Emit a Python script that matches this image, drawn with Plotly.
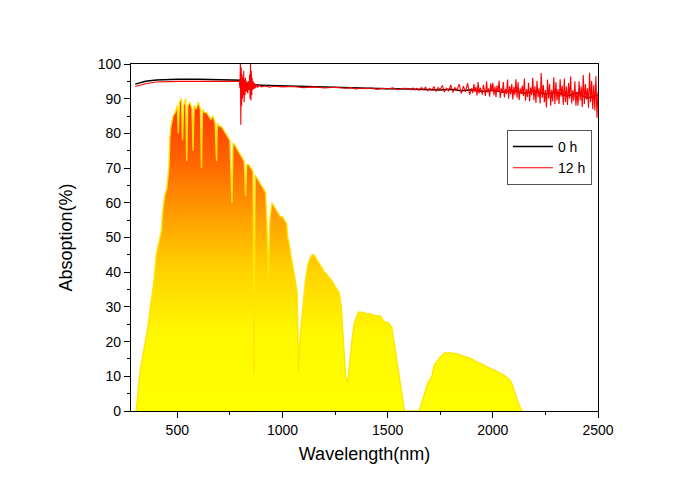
import plotly.graph_objects as go

# solar spectrum (scaled)
spec_nm = [305, 310, 320, 330, 340, 350, 360, 370, 380, 390, 400, 410, 420, 425, 430, 440, 450, 460, 465, 470,
           480, 490, 500, 505, 510, 520, 525, 530, 540, 545, 550, 560, 570, 575, 580, 590, 600, 610, 615, 620,
           630, 640, 650, 660, 670, 680, 687, 690, 700, 710, 720, 730, 740, 750, 760, 765, 770, 780, 790, 800,
           810, 818, 825, 830, 840, 850, 860, 865, 870, 880, 890, 900, 910, 920, 927, 933, 940, 950, 960, 970,
           980, 990, 1000, 1010, 1020, 1025, 1030, 1040, 1050, 1060, 1070, 1076, 1082, 1090, 1100, 1110, 1120,
           1130, 1140, 1150, 1160, 1170, 1180, 1190, 1200, 1210, 1220, 1230, 1240, 1250, 1260, 1270, 1280, 1290,
           1300, 1310, 1320, 1330, 1340, 1350, 1360, 1380, 1400, 1420, 1440, 1460, 1470, 1480, 1490, 1500, 1510,
           1520, 1530, 1540, 1550, 1560, 1570, 1580, 1650, 1660, 1670, 1680, 1690, 1700, 1710, 1720, 1730, 1740,
           1750, 1760, 1770, 1800, 1830, 1850, 1880, 1900, 1920, 1950, 1980, 2000, 2020, 2040, 2060, 2080, 2090,
           2100, 2110, 2120, 2130, 2140]
spec_val = [0, 4, 10, 14, 17, 20, 24, 29, 33, 38, 45, 48, 51, 52, 57, 62, 64, 70, 79, 82,
            85, 86, 88, 80, 89, 90, 78, 88, 90, 72, 88, 89, 87, 75, 88, 87, 89, 87, 70, 87,
            86, 86, 85, 84, 85, 83, 72, 83, 82, 82, 81, 80, 79, 78, 60, 77, 77, 76, 75, 74,
            73, 72, 62, 71, 71, 70, 69, 11, 68, 67, 66, 65, 64, 63, 52, 38, 55, 60, 59, 58,
            57, 56, 56, 55, 54, 50, 49, 45, 42, 38, 34, 11, 20, 26, 32, 38, 42,
            44, 45, 45, 44, 43, 42, 41, 40, 39.5, 38.5, 38, 37, 36, 35, 34, 30, 20,
            10, 8, 15, 20, 25, 27, 28.5, 28.5, 28, 28, 27.5, 27.5, 27, 26, 25.5, 25.5, 25,
            24, 20, 16, 12, 8, 3, 0, 0, 2, 4, 6, 8, 9, 10, 13, 14, 15,
            15.6, 16, 16.7, 16.7, 16.5, 16, 15.4, 15, 14.2, 13.5, 12.5, 12, 11.5, 10.8, 10, 9, 8,
            6, 4, 2.5, 1, 0]

# 0 h absorption
h0_nm = [300, 320, 350, 400, 450, 500, 600, 700, 800, 810, 830, 860, 900, 1000, 1100, 1200, 1300, 1400,
         1500, 1600, 1700, 1750, 1800, 1850, 1900, 1950, 2000, 2050, 2100, 2150, 2200, 2250, 2300, 2350,
         2400, 2450, 2500]
h0_val = [94.2, 94.6, 95.0, 95.4, 95.6, 95.6, 95.6, 95.5, 95.5, 95.3, 94.5, 94.0, 93.9, 93.7, 93.6, 93.5,
          93.3, 93.0, 92.9, 92.8, 92.7, 92.5, 92.7, 92.3, 92.6, 92.1, 92.4, 91.9, 92.3, 91.6, 92.2, 91.3,
          91.9, 90.8, 91.6, 90.2, 91.0]

# 12 h absorption
h12_nm = [300, 320, 350, 400, 450, 500, 600, 700, 790, 795, 798, 800, 802, 804, 806, 808, 810, 812, 814,
          816, 818, 820, 822, 824, 826, 828, 830, 832, 835, 838, 841, 844, 846, 848, 850, 852, 854, 856,
          858, 861, 864, 867, 870, 875, 880, 890, 900, 920, 940, 960, 1000, 1050, 1100, 1150, 1200, 1250,
          1300, 1325, 1350, 1375, 1400, 1425, 1450, 1475, 1500, 1525, 1550, 1575,
          1600, 1610, 1620, 1630, 1640, 1650, 1660, 1670, 1680, 1690, 1700, 1710, 1720, 1730, 1740, 1750,
          1760, 1770, 1780, 1790, 1800, 1810, 1820, 1830, 1840, 1850, 1860, 1870, 1880, 1890,
          1900, 1905, 1910, 1915, 1920, 1925, 1930, 1935, 1940, 1945,
          1950, 1955, 1960, 1965, 1970, 1975, 1980, 1985, 1990, 1995,
          2000, 2005, 2010, 2015, 2020, 2025, 2030, 2035, 2040, 2045,
          2050, 2055, 2060, 2065, 2070, 2075, 2080, 2085, 2090, 2095,
          2100, 2105, 2110, 2115, 2120, 2125, 2130, 2135, 2140, 2145,
          2150, 2155, 2160, 2165, 2170, 2175, 2180, 2185, 2190, 2195,
          2200, 2205, 2210, 2215, 2220, 2225, 2230, 2235, 2240, 2245,
          2250, 2255, 2260, 2265, 2270, 2275, 2280, 2285, 2290, 2295,
          2300, 2305, 2310, 2315, 2320, 2325, 2330, 2335, 2340, 2345,
          2350, 2355, 2360, 2365, 2370, 2375, 2380, 2385, 2390, 2395,
          2400, 2405, 2410, 2415, 2420, 2425, 2430, 2435, 2440, 2445,
          2450, 2455, 2460, 2465, 2470, 2475, 2480, 2485, 2490, 2495, 2500]
h12_val = [93.5, 93.8, 94.3, 94.8, 95.0, 95.0, 95.0, 95.0, 95.0, 95.0, 93.0, 100.5, 82.5, 99.0, 88.0, 97.0,
           90.0, 96.0, 91.0, 98.0, 89.0, 95.5, 91.0, 96.0, 92.0, 95.0, 92.0, 94.5, 91.5, 95.0, 92.5, 97.0,
           90.0, 100.5, 89.5, 98.0, 91.0, 96.0, 92.5, 95.0, 92.8, 94.5, 93.0, 94.2, 93.3, 93.8, 93.4, 93.7,
           93.3, 93.6, 93.4, 93.5, 93.2, 93.4, 93.1, 93.3, 93.0, 93.2, 92.8, 93.1, 92.9, 93.1, 92.7, 93.0,
           92.8, 93.1, 92.6, 93.0,
           92.9, 92.6, 93.1, 92.5, 93.0, 92.4, 93.2, 92.6, 93.3, 92.3, 93.0, 92.4, 93.5, 92.1, 93.2, 92.6,
           93.8, 91.9, 93.0, 92.2, 94.0, 91.8, 93.2, 92.5, 94.2, 91.5, 93.6, 92.0, 94.5, 91.2,
           93.0, 91.6, 94.2, 92.0, 93.4, 90.9, 94.8, 91.5, 93.2, 92.4,
           91.2, 94.0, 92.6, 90.8, 95.0, 91.8, 93.0, 90.6, 94.4, 92.2,
           94.6, 91.0, 93.5, 90.5, 93.8, 92.0, 95.2, 90.2, 93.0, 91.6,
           94.8, 90.4, 92.8, 91.4, 95.5, 90.0, 93.6, 91.2, 94.2, 89.8,
           93.4, 91.0, 95.6, 90.3, 94.8, 89.6, 93.0, 91.4, 93.8, 90.8,
           95.8, 89.4, 92.8, 90.5, 94.6, 89.2, 93.2, 91.0, 96.0, 89.6,
           93.6, 88.8, 95.2, 90.4, 93.0, 88.6, 97.4, 90.2, 94.0, 89.0,
           92.5, 87.5, 95.5, 90.0, 94.2, 88.0, 92.6, 89.2, 96.2, 88.4,
           94.8, 89.5, 92.8, 88.5, 95.6, 90.6, 93.8, 88.2, 95.8, 89.0,
           93.5, 88.2, 94.5, 90.0, 96.4, 88.6, 92.4, 89.4, 95.0, 88.0,
           92.0, 88.0, 95.0, 89.5, 93.6, 87.6, 96.8, 88.5, 94.2, 89.8,
           93.0, 87.4, 97.5, 89.0, 95.2, 87.0, 94.0, 86.5, 96.5, 84.5, 92.0]

x_ticks = [500, 1000, 1500, 2000, 2500]

fig = go.Figure()

# spectrum filled with a vertical yellow -> red gradient
fig.add_trace(go.Scatter(
    x=spec_nm, y=spec_val,
    mode='lines',
    line=dict(color='rgba(255,228,0,0.95)', width=1.4),
    fill='tozeroy',
    fillgradient=dict(
        type='vertical',
        colorscale=[[0, '#FFFF00'], [0.25, '#FFF800'], [0.45, '#FFD200'],
                    [0.62, '#FFA000'], [0.8, '#FF6400'], [1, '#FF3200']],
        start=0, stop=90),
    showlegend=False,
    hoverinfo='skip'
))

fig.add_trace(go.Scatter(
    x=h0_nm, y=h0_val, mode='lines',
    line=dict(color='black', width=1.5),
    name='0 h'
))

fig.add_trace(go.Scatter(
    x=h12_nm, y=h12_val, mode='lines',
    line=dict(color='#FF0000', width=1.1),
    name='12 h'
))

axis_font = dict(family='Liberation Sans, Arial, sans-serif', size=14, color='black')

# the page adds an 8px body margin, so the figure is sized 668x468
fig.update_layout(
    width=668, height=468,
    margin=dict(l=123, r=78, t=56, b=65),
    paper_bgcolor='white',
    plot_bgcolor='white',
    font=axis_font,
    xaxis=dict(
        range=[280, 2500],
        tickvals=x_ticks,
        ticks='outside', ticklen=6, tickwidth=1, tickcolor='black',
        minor=dict(dtick=250, tick0=0, ticks='outside', ticklen=3, tickcolor='black'),
        showline=True, linecolor='black', linewidth=1.2, mirror=True,
        showgrid=False, zeroline=False,
        title=dict(text='Wavelength(nm)', font=dict(size=18), standoff=10),
    ),
    yaxis=dict(
        range=[0, 100],
        dtick=10,
        ticks='outside', ticklen=6, tickwidth=1, tickcolor='black',
        minor=dict(dtick=5, ticks='outside', ticklen=3, tickcolor='black'),
        showline=True, linecolor='black', linewidth=1.2, mirror=True,
        showgrid=False, zeroline=False,
        title=dict(text='Absoption(%)', font=dict(size=18), standoff=20),
    ),
    legend=dict(
        x=0.805, y=0.81, xanchor='left', yanchor='top',
        bordercolor='#555555', borderwidth=1,
        bgcolor='white',
        font=dict(size=14),
        tracegroupgap=0,
        itemwidth=40,
    ),
)

fig.write_html("out.html")
